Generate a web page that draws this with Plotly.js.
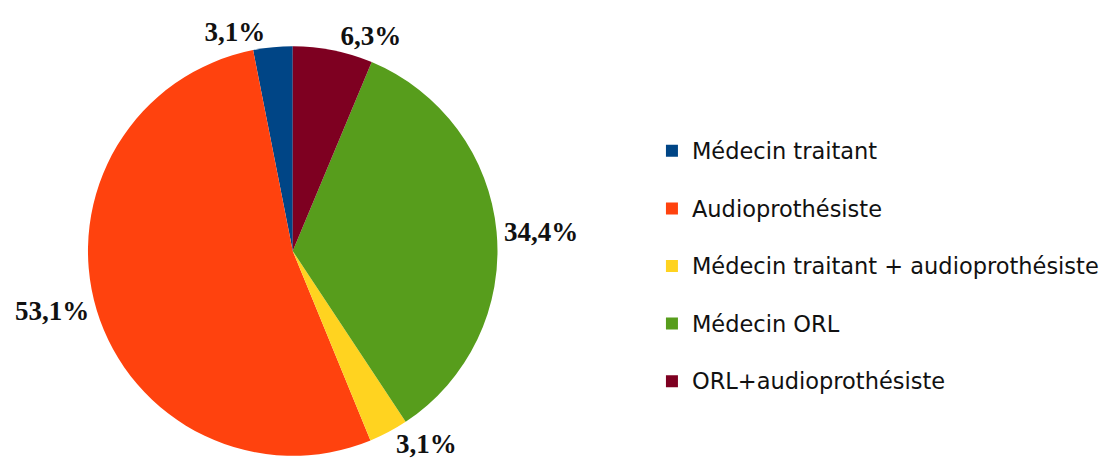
<!DOCTYPE html>
<html>
<head>
<meta charset="utf-8">
<script src="https://cdn.plot.ly/plotly-3.0.1.min.js"></script>
<style>html,body{margin:0;padding:0;background:#fff;}#chart{width:1108px;height:470px;}</style>
</head>
<body>
<div id="chart"></div>
<script>
var categories = ["Médecin traitant", "Audioprothésiste", "Médecin traitant + audioprothésiste", "Médecin ORL", "ORL+audioprothésiste"];
var shares = [3.1, 53.1, 3.1, 34.4, 6.3];
var sliceColors = ["#004586", "#ff420e", "#ffd320", "#579d1c", "#7e0021"];

var legendLabels = categories.map(function (c) {
  return '<span style="font-size:22.5px">' + c + '</span><br>\u00a0';
});
var total = shares.reduce(function (a, b) { return a + b; }, 0);

var trace = {
  type: "pie",
  labels: legendLabels,
  values: shares,
  sort: false,
  direction: "counterclockwise",
  rotation: -360 * shares[0] / total,
  marker: { colors: sliceColors, line: { width: 0 } },
  textposition: "outside",
  texttemplate: "%{value:.1f}%",
  textfont: { family: "Liberation Serif", size: 27, color: "#111", weight: "bold" },
  hoverinfo: "none",
  domain: { x: [0.0794, 0.449], y: [0.030, 0.902] },
  automargin: false
};

var layout = {
  width: 1108,
  height: 470,
  margin: { l: 0, r: 0, t: 0, b: 0 },
  paper_bgcolor: "#fff",
  separators: ", ",
  showlegend: true,
  legend: {
    x: 0.5884, xanchor: "left",
    y: 0.722, yanchor: "top",
    valign: "top",
    font: { family: "DejaVu Sans", size: 21, color: "#111" },
    bgcolor: "rgba(0,0,0,0)"
  }
};

Plotly.newPlot("chart", [trace], layout, { staticPlot: true });
</script>
</body>
</html>
